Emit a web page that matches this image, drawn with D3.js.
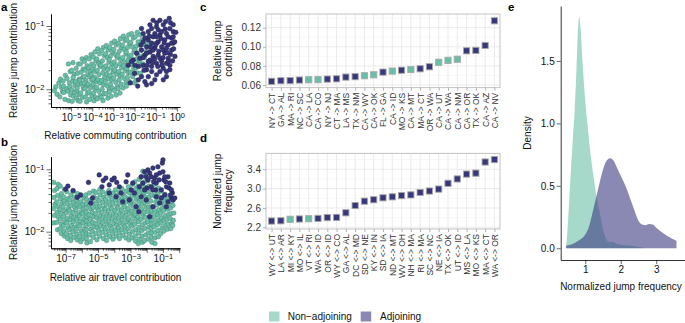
<!DOCTYPE html>
<html><head><meta charset="utf-8">
<script src="https://cdn.jsdelivr.net/npm/d3@7/dist/d3.min.js"></script>
<style>body{margin:0;background:#fff}svg{display:block}</style>
</head><body><svg id="chart" width="685" height="323"></svg>
<script>
// ---------- DATA (log10 values for scatter panels) ----------
const commuteNonAdj = [
[-5.73,-1.96],[-5.66,-2.08],[-5.79,-2.02],
[-5.58,-1.90],[-5.47,-1.97],[-5.53,-2.12],[-5.41,-2.04],[-5.50,-1.84],
[-5.27,-1.78],[-5.38,-1.87],[-5.22,-1.99],[-5.34,-2.05],[-5.29,-2.16],[-5.36,-1.95],
[-5.13,-1.60],[-5.04,-1.72],[-5.19,-1.83],[-5.08,-1.90],[-5.15,-2.03],[-5.02,-2.09],[-5.11,-2.18],[-5.06,-1.96],
[-4.91,-1.58],[-4.98,-1.70],[-4.85,-1.76],[-4.93,-1.87],[-4.82,-1.94],[-4.97,-2.01],[-4.88,-2.11],[-4.95,-2.19],[-4.84,-2.05],[-4.90,-1.81],
[-4.65,-1.60],[-4.76,-1.67],[-4.70,-1.75],[-4.62,-1.84],[-4.79,-1.88],[-4.68,-1.93],[-4.73,-2.02],[-4.63,-2.08],[-4.75,-2.14],[-4.67,-2.18],[-4.71,-1.98],
[-4.48,-1.52],[-4.56,-1.60],[-4.43,-1.68],[-4.53,-1.73],[-4.45,-1.81],[-4.59,-1.86],[-4.50,-1.91],[-4.41,-1.99],[-4.54,-2.06],[-4.47,-2.13],[-4.58,-2.19],[-4.44,-1.95],
[-4.28,-1.50],[-4.37,-1.56],[-4.24,-1.63],[-4.33,-1.70],[-4.21,-1.77],[-4.39,-1.80],[-4.30,-1.86],[-4.26,-1.95],[-4.35,-1.99],[-4.22,-2.06],[-4.32,-2.12],[-4.27,-2.20],[-4.38,-1.90],
[-4.06,-1.45],[-4.14,-1.52],[-4.02,-1.60],[-4.17,-1.66],[-4.09,-1.72],[-4.12,-1.80],[-4.03,-1.85],[-4.19,-1.92],[-4.08,-1.97],[-4.15,-2.04],[-4.01,-2.10],[-4.11,-2.16],[-4.05,-1.77],
[-3.87,-1.41],[-3.95,-1.49],[-3.83,-1.55],[-3.92,-1.63],[-3.98,-1.69],[-3.85,-1.72],[-3.90,-1.81],[-3.81,-1.88],[-3.96,-1.92],[-3.88,-1.99],[-3.93,-2.06],[-3.84,-2.13],[-3.91,-2.18],[-3.97,-1.84],
[-3.74,-1.36],[-3.66,-1.44],[-3.78,-1.52],[-3.70,-1.58],[-3.62,-1.64],[-3.76,-1.70],[-3.68,-1.77],[-3.73,-1.85],[-3.64,-1.90],[-3.79,-1.97],[-3.69,-2.03],[-3.61,-2.10],[-3.75,-2.15],[-3.67,-1.60],
[-3.47,-1.34],[-3.56,-1.39],[-3.43,-1.47],[-3.52,-1.55],[-3.58,-1.62],[-3.45,-1.67],[-3.50,-1.74],[-3.41,-1.81],[-3.55,-1.86],[-3.48,-1.93],[-3.53,-2.00],[-3.44,-2.07],[-3.57,-2.13],[-3.49,-2.18],
[-3.33,-1.31],[-3.25,-1.38],[-3.37,-1.44],[-3.29,-1.50],[-3.21,-1.57],[-3.35,-1.63],[-3.27,-1.69],[-3.32,-1.76],[-3.23,-1.83],[-3.38,-1.88],[-3.28,-1.95],[-3.20,-2.01],[-3.34,-2.07],[-3.26,-2.14],
[-3.08,-1.27],[-3.17,-1.34],[-3.04,-1.41],[-3.13,-1.47],[-3.19,-1.53],[-3.06,-1.60],[-3.11,-1.66],[-3.02,-1.73],[-3.16,-1.78],[-3.09,-1.85],[-3.14,-1.92],[-3.05,-1.98],[-3.18,-2.04],[-3.10,-2.11],
[-2.94,-1.24],[-2.86,-1.30],[-2.98,-1.37],[-2.90,-1.45],[-2.82,-1.50],[-2.96,-1.57],[-2.88,-1.63],[-2.93,-1.70],[-2.84,-1.76],[-2.99,-1.82],[-2.89,-1.89],[-2.81,-1.96],[-2.95,-2.02],[-2.87,-2.09],
[-2.67,-1.20],[-2.76,-1.27],[-2.63,-1.34],[-2.72,-1.40],[-2.78,-1.47],[-2.65,-1.53],[-2.70,-1.60],[-2.61,-1.66],[-2.75,-1.72],[-2.68,-1.79],[-2.73,-1.85],[-2.64,-1.92],[-2.77,-1.99],[-2.69,-2.06],
[-2.53,-1.16],[-2.45,-1.23],[-2.57,-1.30],[-2.49,-1.37],[-2.41,-1.44],[-2.55,-1.50],[-2.47,-1.57],[-2.52,-1.63],[-2.43,-1.70],[-2.58,-1.76],[-2.48,-1.83],[-2.40,-1.90],[-2.54,-1.98],
[-2.28,-1.14],[-2.37,-1.21],[-2.24,-1.28],[-2.33,-1.34],[-2.39,-1.41],[-2.26,-1.48],[-2.31,-1.54],[-2.22,-1.61],[-2.36,-1.67],[-2.29,-1.74],[-2.34,-1.81],[-2.25,-1.88],[-2.38,-1.95],
[-2.14,-1.12],[-2.06,-1.19],[-2.18,-1.26],[-2.10,-1.33],[-2.02,-1.40],[-2.16,-1.46],[-2.08,-1.53],[-2.13,-1.60],[-2.04,-1.67],[-2.19,-1.73],[-2.09,-1.80],[-2.01,-1.90],
[-1.87,-1.10],[-1.96,-1.17],[-1.83,-1.25],[-1.92,-1.32],[-1.98,-1.38],[-1.85,-1.45],[-1.90,-1.52],[-1.81,-1.59],[-1.95,-1.66],[-1.88,-1.74],[-1.93,-1.86],
[-1.73,-1.14],[-1.65,-1.22],[-1.77,-1.30],[-1.69,-1.38],[-1.61,-1.47],[-1.75,-1.55],[-1.67,-1.63],[-1.72,-1.75],
[-1.48,-1.19],[-1.57,-1.29],[-1.44,-1.40],[-1.53,-1.50],[-1.59,-1.60],[-1.46,-1.69],
[-1.34,-1.27],[-1.26,-1.41],[-1.31,-1.56],[-1.14,-1.35],[-1.06,-1.50]
];
const commuteAdj = [
[-0.36,-0.88],[-0.64,-0.98],[-0.96,-1.01],[-1.19,-1.04],[-0.17,-1.09],[-0.49,-1.12],[-0.80,-1.14],[-1.12,-1.17],[-1.35,-1.22],[-1.59,-1.25],
[-0.25,-1.19],[-0.57,-1.22],[-0.88,-1.25],[-1.19,-1.27],[-1.43,-1.33],[-1.67,-1.38],[-1.90,-1.43],[-2.06,-1.54],[-0.41,-1.30],[-0.72,-1.33],
[-1.04,-1.35],[-1.27,-1.41],[-1.51,-1.46],[-1.75,-1.51],[-0.25,-1.38],[-0.57,-1.43],[-0.88,-1.46],[-1.12,-1.48],[-1.35,-1.56],[-1.59,-1.62],
[-0.41,-1.51],[-0.72,-1.56],[-0.96,-1.59],[-1.19,-1.64],[-1.43,-1.69],[-1.67,-1.80],[-1.51,-1.88],[-1.19,-1.91],[-0.96,-1.77],[-0.64,-1.67],
[-0.33,-1.62],[-0.17,-1.27],[-0.09,-1.48],[-0.49,-1.72],[-0.80,-1.72],[-1.35,-1.80],[-1.82,-1.64],[-1.98,-1.62],[-2.14,-1.56],[-1.04,-1.12],
[-0.88,-1.06],[-1.35,-1.09],[-1.59,-1.12],[-0.33,-1.04],[-0.17,-0.98],[-0.53,-0.93],[-0.80,-0.91],[-1.12,-0.91],[-1.27,-0.98],[-0.49,-1.80],
[-0.33,-1.69],[-1.04,-1.85],[-0.64,-1.85],[-1.19,-1.72],[-1.82,-1.85],[-1.43,-1.93],[-0.96,-1.27],[-0.64,-1.38],[-1.67,-1.04],[-0.49,-1.59],
[-0.41,-1.17],[-0.72,-1.09],[-0.96,-1.17],[-1.43,-1.43],[-1.12,-1.38],[-0.80,-1.51],[-0.49,-1.35],[-0.17,-1.17],[-1.27,-1.54],[-1.51,-1.19],
[-0.60,-1.27],[-0.30,-1.45],[-0.85,-1.40],[-1.05,-1.52],[-0.70,-1.62],[-0.40,-1.56],[-0.15,-1.36],[-0.55,-1.05],[-0.25,-1.27],[-1.00,-1.30],
[-1.25,-1.33],[-0.75,-1.20],[-0.10,-1.25],[-0.90,-1.64],[-0.20,-1.55],[-1.60,-1.50],[-1.30,-1.16],[-0.65,-1.50],[-1.70,-1.30],[-0.05,-1.10],
[-0.45,-1.42],[-1.15,-1.58],[-1.40,-1.62],[-0.30,-0.95],[-0.95,-0.95],[-2.30,-1.62],[-2.20,-1.90],[-2.00,-1.75],[-1.85,-1.95],[-1.55,-1.70]
];
const airNonAdj = [
[-7.74,-1.21],[-7.68,-1.34],[-7.72,-1.45],[-7.66,-1.56],[-7.75,-1.63],[-7.69,-1.74],[-7.73,-1.86],
[-7.46,-1.24],[-7.53,-1.31],[-7.49,-1.42],[-7.55,-1.52],[-7.47,-1.60],[-7.52,-1.69],[-7.44,-1.77],[-7.54,-1.85],[-7.50,-1.97],
[-7.33,-1.27],[-7.26,-1.39],[-7.31,-1.47],[-7.24,-1.55],[-7.35,-1.64],[-7.28,-1.71],[-7.32,-1.80],[-7.25,-1.88],[-7.34,-1.95],[-7.27,-2.03],
[-7.07,-1.32],[-7.13,-1.44],[-7.09,-1.51],[-7.15,-1.60],[-7.06,-1.67],[-7.12,-1.76],[-7.04,-1.84],[-7.14,-1.91],[-7.10,-1.99],[-7.08,-2.07],
[-6.93,-1.36],[-6.86,-1.47],[-6.91,-1.55],[-6.84,-1.63],[-6.95,-1.70],[-6.88,-1.79],[-6.92,-1.86],[-6.85,-1.94],[-6.94,-2.03],[-6.87,-2.11],
[-6.67,-1.41],[-6.73,-1.49],[-6.69,-1.58],[-6.75,-1.66],[-6.66,-1.74],[-6.72,-1.81],[-6.64,-1.90],[-6.74,-1.97],[-6.70,-2.06],[-6.68,-2.14],
[-6.53,-1.35],[-6.46,-1.45],[-6.51,-1.53],[-6.44,-1.61],[-6.55,-1.69],[-6.48,-1.77],[-6.52,-1.84],[-6.45,-1.93],[-6.54,-2.00],[-6.47,-2.09],
[-6.27,-1.39],[-6.33,-1.50],[-6.29,-1.57],[-6.35,-1.65],[-6.26,-1.72],[-6.32,-1.80],[-6.24,-1.88],[-6.34,-1.96],[-6.30,-2.04],[-6.28,-2.13],
[-6.13,-1.43],[-6.06,-1.52],[-6.11,-1.60],[-6.04,-1.68],[-6.15,-1.75],[-6.08,-1.83],[-6.12,-1.91],[-6.05,-1.99],[-6.14,-2.08],[-6.07,-2.16],
[-5.87,-1.46],[-5.93,-1.56],[-5.89,-1.63],[-5.95,-1.71],[-5.86,-1.79],[-5.92,-1.86],[-5.84,-1.95],[-5.94,-2.03],[-5.90,-2.11],
[-5.72,-1.48],[-5.72,-1.55],[-5.72,-1.62],[-5.72,-1.69],[-5.72,-1.76],[-5.72,-1.83],[-5.72,-1.90],[-5.72,-1.97],[-5.72,-2.04],[-5.72,-2.11],[-5.75,-1.41],[-5.69,-2.18],
[-5.53,-1.38],[-5.46,-1.49],[-5.51,-1.57],[-5.44,-1.64],[-5.55,-1.73],[-5.48,-1.80],[-5.52,-1.88],[-5.45,-1.96],[-5.54,-2.05],[-5.47,-2.16],
[-5.27,-1.44],[-5.33,-1.53],[-5.29,-1.61],[-5.35,-1.69],[-5.26,-1.76],[-5.32,-1.85],[-5.24,-1.92],[-5.34,-2.00],[-5.30,-2.09],[-5.28,-1.35],
[-5.13,-1.37],[-5.06,-1.47],[-5.11,-1.55],[-5.04,-1.63],[-5.15,-1.71],[-5.08,-1.78],[-5.12,-1.87],[-5.05,-1.94],[-5.14,-2.03],[-5.07,-2.13],
[-4.87,-1.41],[-4.93,-1.50],[-4.89,-1.59],[-4.95,-1.66],[-4.86,-1.74],[-4.92,-1.82],[-4.84,-1.90],[-4.94,-1.98],[-4.90,-2.07],[-4.88,-1.32],
[-4.73,-1.36],[-4.66,-1.45],[-4.71,-1.53],[-4.64,-1.62],[-4.75,-1.69],[-4.68,-1.77],[-4.72,-1.85],[-4.65,-1.93],[-4.74,-2.01],[-4.67,-2.11],
[-4.47,-1.39],[-4.53,-1.48],[-4.49,-1.56],[-4.55,-1.64],[-4.46,-1.72],[-4.52,-1.80],[-4.44,-1.88],[-4.54,-1.96],[-4.50,-2.05],[-4.48,-2.14],
[-4.33,-1.34],[-4.26,-1.43],[-4.31,-1.52],[-4.24,-1.60],[-4.35,-1.67],[-4.28,-1.75],[-4.32,-1.83],[-4.25,-1.91],[-4.34,-1.99],[-4.27,-2.08],
[-4.07,-1.38],[-4.13,-1.47],[-4.09,-1.55],[-4.15,-1.63],[-4.06,-1.71],[-4.12,-1.79],[-4.04,-1.87],[-4.14,-1.95],[-4.10,-2.03],[-4.08,-2.12],
[-3.93,-1.33],[-3.86,-1.42],[-3.91,-1.50],[-3.84,-1.59],[-3.95,-1.66],[-3.88,-1.74],[-3.92,-1.82],[-3.85,-1.90],[-3.94,-1.98],[-3.87,-2.07],
[-3.67,-1.37],[-3.73,-1.46],[-3.69,-1.54],[-3.75,-1.62],[-3.66,-1.70],[-3.72,-1.78],[-3.64,-1.86],[-3.74,-1.94],[-3.70,-2.02],[-3.68,-2.11],
[-3.53,-1.31],[-3.46,-1.41],[-3.51,-1.49],[-3.44,-1.57],[-3.55,-1.65],[-3.48,-1.73],[-3.52,-1.81],[-3.45,-1.89],[-3.54,-1.97],[-3.47,-2.06],
[-3.27,-1.35],[-3.33,-1.44],[-3.29,-1.52],[-3.35,-1.60],[-3.26,-1.68],[-3.32,-1.76],[-3.24,-1.84],[-3.34,-1.92],[-3.30,-2.00],[-3.28,-2.10],
[-3.13,-1.28],[-3.06,-1.38],[-3.11,-1.47],[-3.04,-1.55],[-3.15,-1.63],[-3.08,-1.71],[-3.12,-1.79],[-3.05,-1.87],[-3.14,-1.95],[-3.07,-2.04],[-3.10,-2.13],
[-2.87,-1.24],[-2.93,-1.34],[-2.89,-1.43],[-2.95,-1.51],[-2.86,-1.59],[-2.92,-1.67],[-2.84,-1.75],[-2.94,-1.83],[-2.90,-1.91],[-2.88,-2.00],[-2.91,-2.10],
[-2.73,-1.20],[-2.66,-1.31],[-2.71,-1.40],[-2.64,-1.48],[-2.75,-1.56],[-2.68,-1.64],[-2.72,-1.72],[-2.65,-1.80],[-2.74,-1.88],[-2.67,-1.97],[-2.70,-2.07],[-2.69,-2.15],
[-2.47,-1.16],[-2.53,-1.27],[-2.49,-1.36],[-2.55,-1.44],[-2.46,-1.52],[-2.52,-1.60],[-2.44,-1.68],[-2.54,-1.76],[-2.50,-1.84],[-2.48,-1.93],[-2.51,-2.02],[-2.45,-2.12],[-2.52,-2.19],
[-2.24,-1.03],[-2.33,-1.12],[-2.26,-1.23],[-2.31,-1.32],[-2.24,-1.40],[-2.35,-1.48],[-2.28,-1.56],[-2.32,-1.64],[-2.25,-1.72],[-2.34,-1.80],[-2.27,-1.89],[-2.30,-1.98],[-2.29,-2.07],[-2.26,-2.17],
[-2.07,-1.10],[-2.13,-1.20],[-2.09,-1.29],[-2.15,-1.37],[-2.06,-1.45],[-2.12,-1.53],[-2.04,-1.61],[-2.14,-1.69],[-2.10,-1.77],[-2.08,-1.86],[-2.11,-1.95],[-2.05,-2.05],[-2.13,-2.14],
[-1.93,-1.18],[-1.86,-1.27],[-1.91,-1.36],[-1.84,-1.44],[-1.95,-1.52],[-1.88,-1.60],[-1.92,-1.68],[-1.85,-1.76],[-1.94,-1.84],[-1.87,-1.93],[-1.90,-2.02],[-1.89,-2.12],
[-1.72,-1.60],[-1.72,-1.67],[-1.72,-1.74],[-1.72,-1.81],[-1.72,-1.88],[-1.72,-1.95],[-1.72,-2.02],[-1.72,-2.09],[-1.75,-1.30],[-1.69,-1.41],[-1.76,-1.51],[-1.68,-2.17],
[-1.53,-1.24],[-1.46,-1.34],[-1.51,-1.43],[-1.44,-1.52],[-1.55,-1.60],[-1.48,-1.68],[-1.52,-1.76],[-1.45,-1.84],[-1.54,-1.92],[-1.47,-2.01],[-1.50,-2.10],[-1.49,-2.19],
[-1.27,-1.30],[-1.33,-1.40],[-1.29,-1.49],[-1.35,-1.57],[-1.26,-1.65],[-1.32,-1.73],[-1.24,-1.81],[-1.34,-1.89],[-1.30,-1.98],[-1.28,-2.08],
[-1.13,-1.35],[-1.06,-1.45],[-1.11,-1.54],[-1.04,-1.62],[-1.15,-1.70],[-1.08,-1.78],[-1.12,-1.86],[-1.05,-1.94],[-1.14,-2.03],
[-0.87,-1.40],[-0.93,-1.50],[-0.89,-1.58],[-0.95,-1.66],[-0.86,-1.74],[-0.92,-1.82],[-0.84,-1.90],[-0.94,-1.99],
[-0.73,-1.46],[-0.66,-1.55],[-0.71,-1.64],[-0.64,-1.72],[-0.75,-1.80],[-0.68,-1.88],[-0.72,-1.96],
[-0.47,-1.52],[-0.53,-1.62],[-0.49,-1.71],[-0.55,-1.79],[-0.46,-1.87],[-0.52,-1.95],
[-0.38,-1.58],[-0.33,-1.70],[-0.36,-1.82],[-0.40,-1.90]
];
const airAdj = [
[-7.00,-1.32],[-6.86,-1.27],[-6.54,-1.34],[-6.28,-1.45],[-6.07,-1.41],[-5.59,-1.21],[-5.45,-1.54],[-4.93,-1.09],[-4.68,-1.18],[-4.52,-1.14],
[-4.31,-1.25],[-4.00,-1.14],[-3.85,-1.21],[-3.69,-1.28],[-3.58,-1.38],[-3.48,-1.52],[-3.27,-1.20],[-3.17,-1.09],[-2.96,-1.33],[-2.76,-1.38],
[-2.65,-1.60],[-2.49,-1.68],[-2.34,-1.44],[-2.24,-1.22],[-2.13,-1.04],[-2.03,-1.12],[-1.93,-1.17],[-1.82,-1.06],[-1.72,-1.28],[-1.62,-0.98],
[-1.51,-1.14],[-1.41,-1.22],[-1.31,-0.96],[-1.20,-1.06],[-1.10,-1.33],[-1.04,-0.90],[-1.00,-0.85],[-0.95,-1.17],[-0.89,-1.41],[-0.79,-1.28],
[-0.69,-1.12],[-0.58,-1.22],[-0.48,-1.46],[-0.42,-1.38],[-0.37,-1.49],[-0.27,-1.46],[-1.41,-1.44],[-1.20,-1.54],[-1.62,-1.60],[-1.82,-1.76],
[-2.03,-1.49],[-2.45,-1.28],[-2.86,-1.22],[-3.07,-1.49],[-3.89,-1.44],[-4.31,-1.38],[-5.34,-1.46],[-1.00,-1.04],[-0.83,-1.20],[-1.24,-1.17],
[-1.58,-1.20],[-1.72,-1.12],[-1.99,-1.30],[-0.62,-1.30],[-0.54,-1.41],[-1.10,-1.46],[-1.45,-1.33],[-0.79,-1.60],[-1.93,-1.01],[-1.41,-1.09],
[-0.89,-1.12],[-0.69,-1.52],[-0.48,-1.33],[-1.62,-1.33],[-2.13,-1.33],[-2.34,-1.12],[-4.14,-1.17],[-4.76,-1.28]
];
const contribPairs = ["NY -> CT","GA -> AL","MA -> RI","NC -> SC","CA -> LA","CA -> CO","NY -> NJ","CT -> MA","LA -> MS","TX -> NM","CA -> WY","CA -> OK","FL -> GA","CA -> ID","MO -> KS","CA -> MT","MA -> CT","OR -> WA","CA -> UT","CA -> WA","CA -> NM","CA -> OR","TX -> OK","CA -> AZ","CA -> NV"];
const contribValues = [0.0639,0.0645,0.0646,0.0652,0.0655,0.0656,0.0662,0.0665,0.0683,0.0687,0.0697,0.0707,0.0735,0.0746,0.0755,0.0762,0.0770,0.0791,0.0838,0.0858,0.0870,0.0958,0.0962,0.1014,0.1272];
const contribAdjoining = [1,1,1,1,0,0,1,1,1,1,0,0,1,0,1,0,1,1,0,0,0,1,1,1,1];
const freqPairs = ["WY <-> UT","LA <-> AR","MI <-> KY","MO <-> IL","VT <-> RI","WA <-> ID","OR <-> ID","WY <-> CO","GA <-> AL","DC <-> MD","SD <-> NE","KY <-> IN","SD <-> IA","ND <-> MT","WV <-> OH","NH <-> MA","RI <-> MA","SC <-> NC","NE <-> IA","TX <-> OK","UT <-> ID","MS <-> LA","MO <-> KS","MA <-> CT","WA <-> OR"];
const freqValues = [2.33,2.335,2.366,2.372,2.378,2.384,2.40,2.405,2.50,2.65,2.74,2.77,2.81,2.83,2.855,2.87,2.92,2.95,2.99,3.11,3.20,3.30,3.32,3.55,3.60];
const freqAdjoining = [1,1,0,1,0,1,1,1,1,1,1,1,1,1,1,1,1,1,1,1,1,1,1,1,1];
const densNonAdjX = [0.46,0.50,0.55,0.60,0.65,0.70,0.75,0.80,0.83,0.87,0.92,0.98,1.06,1.15,1.27,1.35,1.43,1.50,1.58,1.68,1.78,1.90,2.10,2.30,2.50,2.70];
const densNonAdjY = [0.02,0.15,0.40,0.65,0.88,1.10,1.42,1.78,1.85,1.75,1.50,1.25,1.00,0.75,0.50,0.36,0.25,0.15,0.08,0.05,0.05,0.035,0.025,0.02,0.01,0.0];
const densAdjX = [0.46,0.60,0.80,1.00,1.10,1.20,1.30,1.40,1.50,1.60,1.70,1.80,1.90,2.00,2.10,2.20,2.30,2.40,2.50,2.60,2.70,2.80,2.90,3.00,3.10,3.20,3.30,3.40,3.50,3.57];
const densAdjY = [0.02,0.03,0.06,0.11,0.17,0.28,0.40,0.52,0.63,0.70,0.72,0.70,0.64,0.58,0.52,0.45,0.37,0.29,0.22,0.19,0.185,0.195,0.19,0.165,0.14,0.12,0.10,0.085,0.07,0.06];
const densTicksY = [0,0.5,1,1.5];
const densTicksX = [1,2,3];
const legendLabels = ["Non\u2212adjoining","Adjoining"];

// ---------- STYLE ----------
const FONT = "'Liberation Sans', Arial, Helvetica, sans-serif";
const TEAL = "#66bfa6", NAVY = "#37377c";
const TEAL_FILL = "#6cc0a9", NAVY_FILL = "#3b3a82", FILL_OP = 0.6;
const svg = d3.select("#chart").style("font-family", FONT);

function decadeTicks(scale, mults){
  const [a,b] = scale.domain(); const out=[];
  for(let k=Math.floor(Math.log10(a)); k<=Math.ceil(Math.log10(b)); k++)
    for(const m of mults){ const v=m*Math.pow(10,k); if(v>=a*0.9999 && v<=b*1.0001) out.push(v); }
  return out;
}
function styleAxis(g, color, tcolor){
  g.select(".domain").attr("stroke", color).attr("stroke-width", 0.8);
  g.selectAll(".tick line").attr("stroke", color).attr("stroke-width", 0.6);
  g.selectAll(".tick text").attr("fill", tcolor).style("font-family", FONT);
}
function supLabels(g, labelled){
  g.selectAll(".tick text").each(function(d){
    const e = Math.round(Math.log10(d)); const t = d3.select(this); t.text(null);
    if(!labelled.includes(e)) return;
    t.append("tspan").text("10");
    t.append("tspan").attr("dy","-0.45em").attr("font-size","7.5px").text(e<0 ? "\u2212"+(-e) : String(e));
  });
}
function logPanel(cfg){
  const {x, y, nonAdj, adj, xLab, yLab, xLabels, yLabels, xLabY} = cfg;
  const gp = svg.append("g");
  gp.selectAll("circle.n").data(nonAdj).join("circle")
    .attr("cx", d=>x(Math.pow(10,d[0]))).attr("cy", d=>y(Math.pow(10,d[1]))).attr("r", 2.35)
    .attr("fill", TEAL).attr("stroke", "#3d6e60").attr("stroke-width", 0.35);
  gp.selectAll("circle.a").data(adj).join("circle")
    .attr("cx", d=>x(Math.pow(10,d[0]))).attr("cy", d=>y(Math.pow(10,d[1]))).attr("r", 2.35)
    .attr("fill", NAVY).attr("stroke", "#1a1a45").attr("stroke-width", 0.4);
  const y0 = y.range()[0], x0 = x.range()[0];
  const gxm = svg.append("g").attr("transform", `translate(0,${y0})`)
    .call(d3.axisBottom(x).tickValues(decadeTicks(x,[2,3,4,5,6,7,8,9])).tickSize(2.5).tickSizeOuter(0).tickFormat(""));
  styleAxis(gxm, "#000", "#000");
  const gx = svg.append("g").attr("transform", `translate(0,${y0})`)
    .call(d3.axisBottom(x).tickValues(decadeTicks(x,[1])).tickSize(4.5).tickSizeOuter(0).tickPadding(2.5))
    .attr("font-size", 10);
  styleAxis(gx, "#000", "#111"); supLabels(gx, xLabels);
  const gym = svg.append("g").attr("transform", `translate(${x0},0)`)
    .call(d3.axisLeft(y).tickValues(decadeTicks(y,[2,3,4,5,6,7,8,9])).tickSize(2.5).tickSizeOuter(0).tickFormat(""));
  styleAxis(gym, "#000", "#000");
  const gy = svg.append("g").attr("transform", `translate(${x0},0)`)
    .call(d3.axisLeft(y).tickValues(decadeTicks(y,[1])).tickSize(4.5).tickSizeOuter(0).tickPadding(2))
    .attr("font-size", 10);
  styleAxis(gy, "#000", "#111"); supLabels(gy, yLabels);
  svg.append("text").attr("x", (x.range()[0]+x.range()[1])/2).attr("y", xLabY).attr("text-anchor","middle")
    .attr("font-size", 10).attr("fill","#111").text(xLab);
  const yc = (y.range()[0]+y.range()[1])/2;
  svg.append("text").attr("transform", `translate(17,${yc}) rotate(-90)`).attr("text-anchor","middle")
    .attr("font-size", 10).attr("fill","#111").text(yLab);
}

// ---------- Panel a ----------
logPanel({
  x: d3.scaleLog().domain([Math.pow(10,-5.95), Math.pow(10,0.15)]).range([51,180]),
  y: d3.scaleLog().domain([Math.pow(10,-2.28), Math.pow(10,-0.81)]).range([107,14]),
  nonAdj: commuteNonAdj, adj: commuteAdj,
  xLab: "Relative commuting contribution", yLab: "Relative jump contribution",
  xLabels: [-5,-4,-3,-2,-1,0], yLabels: [-2,-1], xLabY: 139
});
// ---------- Panel b ----------
logPanel({
  x: d3.scaleLog().domain([Math.pow(10,-7.9), Math.pow(10,0.05)]).range([51,180]),
  y: d3.scaleLog().domain([Math.pow(10,-2.266), Math.pow(10,-0.798)]).range([248.3,156.7]),
  nonAdj: airNonAdj, adj: airAdj,
  xLab: "Relative air travel contribution", yLab: "Relative jump contribution",
  xLabels: [-7,-5,-3,-1], yLabels: [-2,-1], xLabY: 281
});

// ---------- Panels c & d ----------
function pairPanel(cfg){
  const {cats, vals, adj, yDomain, yTop, yBot, majors, minors, fmt, lab1, lab2} = cfg;
  const x = d3.scalePoint().domain(cats).range([266,500]).padding(0.6);
  const y = d3.scaleLinear().domain(yDomain).range([yBot, yTop]);
  const g = svg.append("g");
  g.selectAll("line.mn").data(minors).join("line").attr("x1",266).attr("x2",500)
    .attr("y1",d=>y(d)).attr("y2",d=>y(d)).attr("stroke","#f0f0f0").attr("stroke-width",0.5);
  g.selectAll("line.mj").data(majors).join("line").attr("x1",266).attr("x2",500)
    .attr("y1",d=>y(d)).attr("y2",d=>y(d)).attr("stroke","#e2e2e2").attr("stroke-width",0.7);
  g.selectAll("line.vx").data(cats).join("line").attr("x1",d=>x(d)).attr("x2",d=>x(d))
    .attr("y1",yTop).attr("y2",yBot).attr("stroke","#e2e2e2").attr("stroke-width",0.7);
  const s = 6.2;
  g.selectAll("rect.pt").data(cats).join("rect")
    .attr("x",(d)=>x(d)-s/2).attr("y",(d,i)=>y(vals[i])-s/2).attr("width",s).attr("height",s)
    .attr("fill",(d,i)=>adj[i]?NAVY:TEAL).attr("stroke","#a8a8a8").attr("stroke-width",0.9);
  g.append("rect").attr("x",266).attr("y",yTop).attr("width",234).attr("height",yBot-yTop)
    .attr("fill","none").attr("stroke","#b3b3b3").attr("stroke-width",0.8);
  const gy = svg.append("g").attr("transform","translate(266,0)")
    .call(d3.axisLeft(y).tickValues(majors).tickFormat(d3.format(fmt)).tickSize(3).tickPadding(2))
    .attr("font-size",10);
  gy.select(".domain").remove();
  gy.selectAll(".tick line").attr("stroke","#b3b3b3");
  gy.selectAll(".tick text").attr("fill","#333");
  const gx = svg.append("g").attr("transform",`translate(0,${yBot})`)
    .call(d3.axisBottom(x).tickSize(3)).attr("font-size",8.5);
  gx.select(".domain").remove();
  gx.selectAll(".tick line").attr("stroke","#b3b3b3");
  gx.selectAll(".tick text").attr("fill","#333").attr("transform","rotate(-90)")
    .attr("x",-5).attr("y",0).attr("dy","0.34em").attr("text-anchor","end");
  const yc = (yTop+yBot)/2;
  const t = svg.append("text").attr("transform",`translate(221,${yc}) rotate(-90)`).attr("text-anchor","middle")
    .attr("font-size",10).attr("fill","#111");
  t.append("tspan").attr("x",0).attr("dy",0).text(lab1);
  t.append("tspan").attr("x",0).attr("dy","1.1em").text(lab2);
}
pairPanel({cats: contribPairs, vals: contribValues, adj: contribAdjoining,
  yDomain:[0.0572,0.1343], yTop:14, yBot:87.7, majors:[0.06,0.08,0.10,0.12], minors:[0.07,0.09,0.11,0.13],
  fmt:".2f", lab1:"Relative jump", lab2:"contribution"});
pairPanel({cats: freqPairs, vals: freqValues, adj: freqAdjoining,
  yDomain:[2.165,3.73], yTop:153.3, yBot:229, majors:[2.2,2.6,3.0,3.4], minors:[2.4,2.8,3.2,3.6],
  fmt:".1f", lab1:"Normalized jump", lab2:"frequency"});

// ---------- Panel e ----------
const xe = d3.scaleLinear().domain([0.307,3.81]).range([560.7,685]);
const ye = d3.scaleLinear().domain([-0.094,1.94]).range([260,6]);
const area = d3.area().x(d=>xe(d[0])).y0(ye(0)).y1(d=>ye(d[1])).curve(d3.curveMonotoneX);
const nonAdjDens = densNonAdjX.map((v,i)=>[v,densNonAdjY[i]]);
const adjDens = densAdjX.map((v,i)=>[v,densAdjY[i]]);
svg.append("path").datum(nonAdjDens).attr("d",area).attr("fill",TEAL_FILL).attr("fill-opacity",FILL_OP);
svg.append("path").datum(adjDens).attr("d",area).attr("fill",NAVY_FILL).attr("fill-opacity",FILL_OP);
const gey = svg.append("g").attr("transform","translate(560.7,0)")
  .call(d3.axisLeft(ye).tickValues(densTicksY).tickFormat(d3.format(".1f")).tickSize(4).tickSizeOuter(0).tickPadding(2))
  .attr("font-size",10);
styleAxis(gey,"#000","#111");
const gex = svg.append("g").attr("transform","translate(0,260)")
  .call(d3.axisBottom(xe).tickValues(densTicksX).tickFormat(d3.format("d")).tickSize(4).tickSizeOuter(0).tickPadding(2))
  .attr("font-size",10);
styleAxis(gex,"#000","#111");
svg.append("text").attr("x",621).attr("y",290).attr("text-anchor","middle").attr("font-size",10).attr("fill","#111")
  .text("Normalized jump frequency");
svg.append("text").attr("transform","translate(531,133) rotate(-90)").attr("text-anchor","middle")
  .attr("font-size",10).attr("fill","#111").text("Density");

// ---------- Legend ----------
const legX = [269, 360.7], legTX = [287.7, 380];
const legCols = [TEAL_FILL, NAVY_FILL];
legendLabels.forEach((lab,i)=>{
  svg.append("rect").attr("x",legX[i]).attr("y",311.5).attr("width",10.5).attr("height",10)
    .attr("fill",legCols[i]).attr("fill-opacity",FILL_OP);
  svg.append("text").attr("x",legTX[i]).attr("y",320).attr("font-size",10).attr("fill","#111").text(lab);
});

// ---------- Panel letters ----------
[["a",1,10.5],["b",1,146],["c",200,10.5],["d",200,142],["e",508,10.5]].forEach(([l,x,y])=>{
  svg.append("text").attr("x",x).attr("y",y).attr("font-size",11.5).attr("font-weight","bold").attr("fill","#000").text(l);
});
</script></body></html>
